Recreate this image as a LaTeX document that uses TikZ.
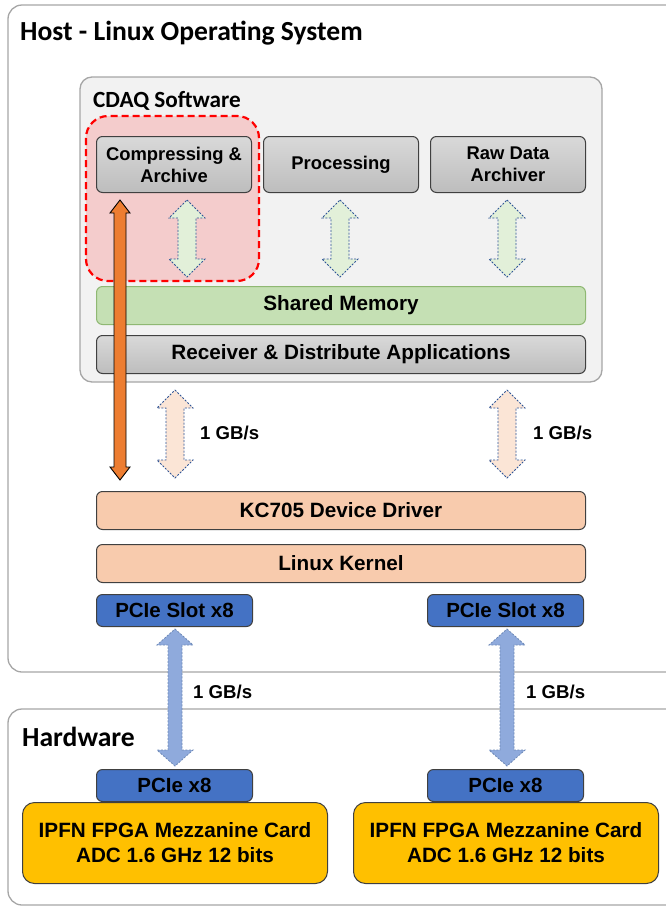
\documentclass[tikz,border=0pt]{standalone}
\usepackage{fontspec}
\setmainfont{Liberation Sans}
\newfontfamily\titlefont{Carlito}
\usetikzlibrary{positioning}

\definecolor{frame}{HTML}{A6A6A6}
\definecolor{swfill}{HTML}{F2F2F2}
\definecolor{zonefill}{HTML}{F4CCCC}
\definecolor{greytop}{HTML}{D9D9D9}
\definecolor{greybot}{HTML}{BDBDBD}
\definecolor{shmfill}{HTML}{C5E0B4}
\definecolor{shmline}{HTML}{8FB873}
\definecolor{greenarr}{HTML}{E2F0D9}
\definecolor{peach}{HTML}{FBE5D6}
\definecolor{driver}{HTML}{F8CBAD}
\definecolor{pcie}{HTML}{4472C4}
\definecolor{bluearr}{HTML}{8FAADC}
\definecolor{arrline}{HTML}{2F5597}
\definecolor{card}{HTML}{FFC000}
\definecolor{orangearr}{HTML}{ED7D31}

% double arrow: style, x, top y, bottom y, half shaft, half head, head length
\newcommand{\dblarrow}[7]{%
  \draw[#1] (#2,#3) -- (#2+#6,#3+#7) -- (#2+#5,#3+#7) -- (#2+#5,#4-#7)
    -- (#2+#6,#4-#7) -- (#2,#4) -- (#2-#6,#4-#7) -- (#2-#5,#4-#7)
    -- (#2-#5,#3+#7) -- (#2-#6,#3+#7) -- cycle;}

\begin{document}
\begin{tikzpicture}[x=1pt,y=-1pt,
  box/.style={draw=black!75,line width=1pt,rounded corners=6pt,anchor=north west,
    align=center,inner sep=0pt,font=\bfseries\fontsize{18.4}{22}\selectfont},
  greybox/.style={box,top color=greytop,bottom color=greybot,minimum width=155pt,minimum height=56pt},
  bar/.style={box,minimum width=489pt,minimum height=38pt,font=\bfseries\fontsize{20.7}{24}\selectfont},
  slot/.style={box,fill=pcie,minimum width=156pt,minimum height=32pt,font=\bfseries\fontsize{20.5}{24}\selectfont},
  cardbox/.style={box,fill=card,rounded corners=12pt,minimum width=305pt,minimum height=81pt,
    font=\bfseries\fontsize{20.7}{25}\selectfont},
  section/.style={draw=frame,line width=1.3pt,rounded corners=14pt},
  title/.style={anchor=base west,inner sep=0pt,font=\titlefont\bfseries\fontsize{27.6}{30}\selectfont},
  rate/.style={anchor=west,inner sep=0pt,font=\bfseries\fontsize{18.6}{22}\selectfont},
  hollow/.style={draw=arrline,line width=0.8pt,dash pattern=on 2pt off 1.5pt}
]
\useasboundingbox (0,0) rectangle (665,911);

\draw[section,fill=white] (8,5) rectangle (690,672);
\draw[section,fill=white] (8,709) rectangle (690,905);
\node[title] (host) at (20,40) {Host - Linux Operating System};
\node[title] (hw) at (22,746) {Hardware};

\draw[section,fill=swfill,rounded corners=12pt] (80,77) rectangle (602,382);
\node[title,font=\titlefont\bfseries\fontsize{23.2}{26}\selectfont] (cdaq) at (93,107) {CDAQ Software};

\draw[draw=red,fill=zonefill,line width=2.2pt,dash pattern=on 7pt off 4pt,rounded corners=22pt]
  (86,116) rectangle (259,281);

\node[greybox] (comp) at (96,136) {Compressing \&\\Archive};
\node[greybox] (proc) at (263,136) {Processing};
\node[greybox] (raw) at (430,136) {Raw Data\\Archiver};

\node[bar,fill=shmfill,draw=shmline] (shm) at (96,286) {Shared Memory};
\node[bar,top color=greytop,bottom color=greybot] (recv) at (96,335) {Receiver \& Distribute Applications};

\dblarrow{hollow,fill=greenarr}{187}{200}{277}{9}{18}{18}
\dblarrow{hollow,fill=greenarr}{340}{200}{277}{9}{18}{18}
\dblarrow{hollow,fill=greenarr}{507}{200}{277}{9}{18}{18}

\dblarrow{hollow,fill=peach}{175}{390}{478}{9}{18}{18}
\dblarrow{hollow,fill=peach}{507}{390}{478}{9}{18}{18}
\node[rate] (r1) at (200,433) {1 GB/s};
\node[rate] (r2) at (533,433) {1 GB/s};

\node[bar,fill=driver] (drv) at (96,491) {KC705 Device Driver};
\node[bar,fill=driver] (kern) at (96,544) {Linux Kernel};

\dblarrow{draw=black,line width=0.9pt,fill=orangearr}{120}{200}{480}{6}{10}{13}

\node[slot] (slotA) at (96,594) {PCIe Slot x8};
\node[slot] (slotB) at (427,594) {PCIe Slot x8};

\dblarrow{hollow,draw=arrline!70,fill=bluearr}{175}{629}{766}{7}{18}{16}
\dblarrow{hollow,draw=arrline!70,fill=bluearr}{507}{629}{766}{7}{18}{16}
\node[rate] (r3) at (193,692) {1 GB/s};
\node[rate] (r4) at (526,692) {1 GB/s};

\node[slot] (pcieA) at (96,769) {PCIe x8};
\node[slot] (pcieB) at (427,769) {PCIe x8};

\node[cardbox] (cardA) at (22,802) {IPFN FPGA Mezzanine Card\\ADC 1.6 GHz 12 bits};
\node[cardbox] (cardB) at (353,802) {IPFN FPGA Mezzanine Card\\ADC 1.6 GHz 12 bits};
\end{tikzpicture}
\end{document}
